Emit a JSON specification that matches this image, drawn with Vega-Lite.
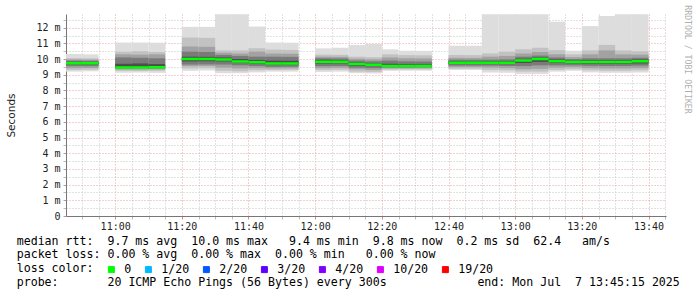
{
  "$schema": "https://vega.github.io/schema/vega-lite/v6.json",
  "width": 600,
  "height": 202,
  "autosize": "none",
  "padding": {"left": 66, "top": 14, "right": 31, "bottom": 81},
  "background": "#ffffff",
  "config": {"view": {"stroke": null}},
  "title": {
    "text": [
      "median rtt:\u00a0\u00a09.7 ms avg\u00a0\u00a010.0 ms max\u00a0\u00a0\u00a09.4 ms min\u00a0\u00a09.8 ms now\u00a0\u00a00.2 ms sd\u00a0\u00a062.4\u00a0\u00a0\u00a0am/s",
      "packet loss: 0.00 % avg\u00a0\u00a00.00 % max\u00a0\u00a00.00 % min\u00a0\u00a0\u00a00.00 % now",
      "loss color:",
      "probe:\u00a0\u00a0\u00a0\u00a0\u00a0\u00a0\u00a020 ICMP Echo Pings (56 Bytes) every 300s\u00a0\u00a0\u00a0\u00a0\u00a0\u00a0\u00a0\u00a0\u00a0\u00a0\u00a0\u00a0\u00a0end: Mon Jul\u00a0\u00a07 13:45:15 2025"
    ],
    "orient": "bottom", "anchor": "start", "frame": "group", "dx": -49.3, "offset": -40,
    "baseline": "top", "lineHeight": 13.9,
    "font": "DejaVu Sans Mono", "fontSize": 11.6, "fontWeight": "normal", "color": "#000000"
  },
  "data": {"values": [
    {"t": "2025-07-07T10:45:00", "t2": "2025-07-07T10:50:00", "mn": 9.2, "p10": 9.3, "p20": 9.42, "p30": 9.55, "p40": 9.66, "med": 9.74, "p60": 9.82, "p70": 9.9, "p80": 9.97, "p90": 10.06, "mx": 10.32, "loss": "0"},
    {"t": "2025-07-07T10:50:00", "t2": "2025-07-07T10:55:00", "mn": 9.22, "p10": 9.32, "p20": 9.43, "p30": 9.55, "p40": 9.65, "med": 9.73, "p60": 9.81, "p70": 9.89, "p80": 9.96, "p90": 10.05, "mx": 10.3, "loss": "0"},
    {"t": "2025-07-07T11:00:00", "t2": "2025-07-07T11:05:00", "mn": 9.13, "p10": 9.25, "p20": 9.33, "p30": 9.39, "p40": 9.43, "med": 9.46, "p60": 9.7, "p70": 10.1, "p80": 10.3, "p90": 10.47, "mx": 11.05, "loss": "0"},
    {"t": "2025-07-07T11:05:00", "t2": "2025-07-07T11:10:00", "mn": 9.14, "p10": 9.24, "p20": 9.33, "p30": 9.4, "p40": 9.43, "med": 9.46, "p60": 9.72, "p70": 10.08, "p80": 10.28, "p90": 10.5, "mx": 11.05, "loss": "0"},
    {"t": "2025-07-07T11:10:00", "t2": "2025-07-07T11:15:00", "mn": 9.12, "p10": 9.25, "p20": 9.34, "p30": 9.4, "p40": 9.44, "med": 9.47, "p60": 9.68, "p70": 10.05, "p80": 10.3, "p90": 10.45, "mx": 11.04, "loss": "0"},
    {"t": "2025-07-07T11:20:00", "t2": "2025-07-07T11:25:00", "mn": 9.25, "p10": 9.4, "p20": 9.55, "p30": 9.65, "p40": 9.85, "med": 10.0, "p60": 10.15, "p70": 10.47, "p80": 10.8, "p90": 11.37, "mx": 12.05, "loss": "0"},
    {"t": "2025-07-07T11:25:00", "t2": "2025-07-07T11:30:00", "mn": 9.27, "p10": 9.42, "p20": 9.56, "p30": 9.66, "p40": 9.86, "med": 10.0, "p60": 10.14, "p70": 10.45, "p80": 10.78, "p90": 11.35, "mx": 12.05, "loss": "0"},
    {"t": "2025-07-07T11:30:00", "t2": "2025-07-07T11:35:00", "mn": 9.1, "p10": 9.25, "p20": 9.45, "p30": 9.65, "p40": 9.85, "med": 9.97, "p60": 10.1, "p70": 10.26, "p80": 10.4, "p90": 10.55, "mx": 12.85, "loss": "0"},
    {"t": "2025-07-07T11:35:00", "t2": "2025-07-07T11:40:00", "mn": 9.1, "p10": 9.22, "p20": 9.4, "p30": 9.6, "p40": 9.75, "med": 9.85, "p60": 10.0, "p70": 10.2, "p80": 10.35, "p90": 10.55, "mx": 12.85, "loss": "0"},
    {"t": "2025-07-07T11:40:00", "t2": "2025-07-07T11:45:00", "mn": 9.15, "p10": 9.28, "p20": 9.42, "p30": 9.56, "p40": 9.7, "med": 9.8, "p60": 9.93, "p70": 10.15, "p80": 10.47, "p90": 10.69, "mx": 12.07, "loss": "0"},
    {"t": "2025-07-07T11:45:00", "t2": "2025-07-07T11:50:00", "mn": 9.2, "p10": 9.3, "p20": 9.4, "p30": 9.5, "p40": 9.62, "med": 9.72, "p60": 9.9, "p70": 10.15, "p80": 10.35, "p90": 10.6, "mx": 11.05, "loss": "0"},
    {"t": "2025-07-07T11:50:00", "t2": "2025-07-07T11:55:00", "mn": 9.2, "p10": 9.31, "p20": 9.41, "p30": 9.51, "p40": 9.62, "med": 9.72, "p60": 9.89, "p70": 10.14, "p80": 10.34, "p90": 10.58, "mx": 11.04, "loss": "0"},
    {"t": "2025-07-07T12:00:00", "t2": "2025-07-07T12:05:00", "mn": 9.18, "p10": 9.3, "p20": 9.42, "p30": 9.55, "p40": 9.72, "med": 9.83, "p60": 9.95, "p70": 10.05, "p80": 10.15, "p90": 10.28, "mx": 10.68, "loss": "0"},
    {"t": "2025-07-07T12:05:00", "t2": "2025-07-07T12:10:00", "mn": 9.2, "p10": 9.32, "p20": 9.44, "p30": 9.56, "p40": 9.73, "med": 9.83, "p60": 9.94, "p70": 10.04, "p80": 10.14, "p90": 10.27, "mx": 10.72, "loss": "0"},
    {"t": "2025-07-07T12:10:00", "t2": "2025-07-07T12:15:00", "mn": 9.1, "p10": 9.2, "p20": 9.35, "p30": 9.45, "p40": 9.58, "med": 9.68, "p60": 9.78, "p70": 9.9, "p80": 10.02, "p90": 10.15, "mx": 10.89, "loss": "0"},
    {"t": "2025-07-07T12:15:00", "t2": "2025-07-07T12:20:00", "mn": 9.08, "p10": 9.18, "p20": 9.3, "p30": 9.42, "p40": 9.55, "med": 9.63, "p60": 9.72, "p70": 9.85, "p80": 9.98, "p90": 10.12, "mx": 10.96, "loss": "0"},
    {"t": "2025-07-07T12:20:00", "t2": "2025-07-07T12:25:00", "mn": 9.25, "p10": 9.33, "p20": 9.4, "p30": 9.46, "p40": 9.51, "med": 9.55, "p60": 9.7, "p70": 9.9, "p80": 10.1, "p90": 10.3, "mx": 10.62, "loss": "0"},
    {"t": "2025-07-07T12:25:00", "t2": "2025-07-07T12:30:00", "mn": 9.26, "p10": 9.34, "p20": 9.41, "p30": 9.46, "p40": 9.51, "med": 9.55, "p60": 9.68, "p70": 9.85, "p80": 10.05, "p90": 10.25, "mx": 10.53, "loss": "0"},
    {"t": "2025-07-07T12:30:00", "t2": "2025-07-07T12:35:00", "mn": 9.26, "p10": 9.34, "p20": 9.41, "p30": 9.47, "p40": 9.51, "med": 9.55, "p60": 9.67, "p70": 9.84, "p80": 10.04, "p90": 10.24, "mx": 10.52, "loss": "0"},
    {"t": "2025-07-07T12:40:00", "t2": "2025-07-07T12:45:00", "mn": 9.3, "p10": 9.38, "p20": 9.48, "p30": 9.58, "p40": 9.68, "med": 9.76, "p60": 9.86, "p70": 9.96, "p80": 10.08, "p90": 10.26, "mx": 10.85, "loss": "0"},
    {"t": "2025-07-07T12:45:00", "t2": "2025-07-07T12:50:00", "mn": 9.3, "p10": 9.38, "p20": 9.48, "p30": 9.58, "p40": 9.68, "med": 9.76, "p60": 9.85, "p70": 9.95, "p80": 10.07, "p90": 10.25, "mx": 10.85, "loss": "0"},
    {"t": "2025-07-07T12:50:00", "t2": "2025-07-07T12:55:00", "mn": 9.15, "p10": 9.3, "p20": 9.45, "p30": 9.58, "p40": 9.68, "med": 9.76, "p60": 9.86, "p70": 9.96, "p80": 10.15, "p90": 10.36, "mx": 12.85, "loss": "0"},
    {"t": "2025-07-07T12:55:00", "t2": "2025-07-07T13:00:00", "mn": 9.12, "p10": 9.28, "p20": 9.42, "p30": 9.56, "p40": 9.68, "med": 9.76, "p60": 9.87, "p70": 9.98, "p80": 10.2, "p90": 10.47, "mx": 12.85, "loss": "0"},
    {"t": "2025-07-07T13:00:00", "t2": "2025-07-07T13:05:00", "mn": 9.05, "p10": 9.2, "p20": 9.35, "p30": 9.55, "p40": 9.75, "med": 9.91, "p60": 10.02, "p70": 10.15, "p80": 10.35, "p90": 10.62, "mx": 12.85, "loss": "0"},
    {"t": "2025-07-07T13:05:00", "t2": "2025-07-07T13:10:00", "mn": 9.05, "p10": 9.2, "p20": 9.38, "p30": 9.6, "p40": 9.82, "med": 10.0, "p60": 10.1, "p70": 10.22, "p80": 10.45, "p90": 10.72, "mx": 12.85, "loss": "0"},
    {"t": "2025-07-07T13:10:00", "t2": "2025-07-07T13:15:00", "mn": 9.2, "p10": 9.3, "p20": 9.45, "p30": 9.6, "p40": 9.75, "med": 9.86, "p60": 9.97, "p70": 10.1, "p80": 10.3, "p90": 10.57, "mx": 12.38, "loss": "0"},
    {"t": "2025-07-07T13:15:00", "t2": "2025-07-07T13:20:00", "mn": 9.25, "p10": 9.35, "p20": 9.48, "p30": 9.6, "p40": 9.72, "med": 9.81, "p60": 9.9, "p70": 10.0, "p80": 10.12, "p90": 10.3, "mx": 10.53, "loss": "0"},
    {"t": "2025-07-07T13:20:00", "t2": "2025-07-07T13:25:00", "mn": 9.15, "p10": 9.28, "p20": 9.42, "p30": 9.57, "p40": 9.7, "med": 9.81, "p60": 9.92, "p70": 10.05, "p80": 10.3, "p90": 10.55, "mx": 12.1, "loss": "0"},
    {"t": "2025-07-07T13:25:00", "t2": "2025-07-07T13:30:00", "mn": 9.12, "p10": 9.25, "p20": 9.4, "p30": 9.56, "p40": 9.7, "med": 9.81, "p60": 9.92, "p70": 10.05, "p80": 10.55, "p90": 10.9, "mx": 12.74, "loss": "0"},
    {"t": "2025-07-07T13:30:00", "t2": "2025-07-07T13:35:00", "mn": 9.12, "p10": 9.25, "p20": 9.4, "p30": 9.56, "p40": 9.7, "med": 9.81, "p60": 9.92, "p70": 10.05, "p80": 10.3, "p90": 10.55, "mx": 12.85, "loss": "0"},
    {"t": "2025-07-07T13:35:00", "t2": "2025-07-07T13:40:00", "mn": 9.15, "p10": 9.28, "p20": 9.42, "p30": 9.58, "p40": 9.72, "med": 9.86, "p60": 9.97, "p70": 10.08, "p80": 10.28, "p90": 10.5, "mx": 12.85, "loss": "0"}
  ]},
  "encoding": {
    "x": {
      "field": "t", "type": "temporal",
      "scale": {"domain": [
        {"year": 2025, "month": 7, "date": 7, "hours": 10, "minutes": 45, "seconds": 15},
        {"year": 2025, "month": 7, "date": 7, "hours": 13, "minutes": 45, "seconds": 15}
      ]},
      "axis": {
        "tickCount": 36,
        "format": "%H:%M",
        "labelExpr": "minutes(datum.value) % 20 === 0 ? datum.label : ''",
        "labelOverlap": false, "labelFlush": false,
        "labelFont": "DejaVu Sans Mono", "labelFontSize": 10, "labelColor": "#222222", "labelPadding": 2,
        "tickSize": 3,
        "tickColor": {"condition": {"test": "minutes(datum.value) % 20 === 0", "value": "#d88a8a"}, "value": "#bbbbbb"},
        "domainColor": "#777777",
        "grid": true,
        "gridColor": {"condition": {"test": "minutes(datum.value) % 20 === 0", "value": "#e3a3a3"}, "value": "#c4c4c4"},
        "gridDash": [1, 2], "gridWidth": 1, "gridOpacity": 1,
        "title": "RRDTOOL / TOBI OETIKER",
        "titleX": 620.5, "titleY": -157, "titleAngle": 90, "titleAlign": "center", "titleBaseline": "middle",
        "titleFont": "DejaVu Sans Mono", "titleFontSize": 8.2, "titleFontWeight": "normal", "titleColor": "#b0b0b0"
      }
    },
    "x2": {"field": "t2"}
  },
  "layer": [
    {
      "mark": {"type": "rect", "color": "#dddddd", "clip": true},
      "encoding": {
        "y": {
          "field": "mn", "type": "quantitative",
          "scale": {"domain": [0, 12.87], "nice": false, "zero": true},
          "axis": {
            "values": [0, 0.5, 1, 1.5, 2, 2.5, 3, 3.5, 4, 4.5, 5, 5.5, 6, 6.5, 7, 7.5, 8, 8.5, 9, 9.5, 10, 10.5, 11, 11.5, 12, 12.5],
            "labelExpr": "datum.value === 0 ? '0' : (datum.value % 1 === 0 ? datum.value + ' m' : '')",
            "labelOverlap": false, "labelFlush": false,
            "labelFont": "DejaVu Sans Mono", "labelFontSize": 10, "labelColor": "#222222", "labelPadding": 3,
            "tickSize": 3,
            "tickColor": {"condition": {"test": "datum.value % 1 === 0", "value": "#d88a8a"}, "value": "#bbbbbb"},
            "domainColor": "#777777",
            "grid": true,
            "gridColor": {"condition": {"test": "datum.value % 1 === 0", "value": "#e3a3a3"}, "value": "#c4c4c4"},
            "gridDash": [1, 2], "gridWidth": 1, "gridOpacity": 1,
            "title": "Seconds",
            "titleX": -55, "titleY": 101, "titleAngle": -90, "titleAlign": "center", "titleBaseline": "middle",
            "titleFont": "DejaVu Sans", "titleFontSize": 10.5, "titleFontWeight": "normal", "titleColor": "#222222"
          }
        },
        "y2": {"field": "mx"}
      }
    },
    {
      "mark": {"type": "rect", "color": "#c2c2c2", "clip": true},
      "encoding": {
        "y": {"field": "p10", "type": "quantitative",
          "axis": {
            "values": [0, 0.5, 1, 1.5, 2, 2.5, 3, 3.5, 4, 4.5, 5, 5.5, 6, 6.5, 7, 7.5, 8, 8.5, 9, 9.5, 10, 10.5, 11, 11.5, 12, 12.5],
            "labelExpr": "datum.value === 0 ? '0' : (datum.value % 1 === 0 ? datum.value + ' m' : '')",
            "labelOverlap": false, "labelFlush": false,
            "labelFont": "DejaVu Sans Mono", "labelFontSize": 10, "labelColor": "#222222", "labelPadding": 3,
            "tickSize": 3,
            "tickColor": {"condition": {"test": "datum.value % 1 === 0", "value": "#d88a8a"}, "value": "#bbbbbb"},
            "domainColor": "#777777",
            "grid": true,
            "gridColor": {"condition": {"test": "datum.value % 1 === 0", "value": "#e3a3a3"}, "value": "#c4c4c4"},
            "gridDash": [1, 2], "gridWidth": 1, "gridOpacity": 1,
            "title": "Seconds",
            "titleX": -55, "titleY": 101, "titleAngle": -90, "titleAlign": "center", "titleBaseline": "middle",
            "titleFont": "DejaVu Sans", "titleFontSize": 10.5, "titleFontWeight": "normal", "titleColor": "#222222"
          }},
        "y2": {"field": "p90"}
      }
    },
    {
      "mark": {"type": "rect", "color": "#a2a2a2", "clip": true},
      "encoding": {
        "y": {"field": "p20", "type": "quantitative",
          "axis": {
            "values": [0, 0.5, 1, 1.5, 2, 2.5, 3, 3.5, 4, 4.5, 5, 5.5, 6, 6.5, 7, 7.5, 8, 8.5, 9, 9.5, 10, 10.5, 11, 11.5, 12, 12.5],
            "labelExpr": "datum.value === 0 ? '0' : (datum.value % 1 === 0 ? datum.value + ' m' : '')",
            "labelOverlap": false, "labelFlush": false,
            "labelFont": "DejaVu Sans Mono", "labelFontSize": 10, "labelColor": "#222222", "labelPadding": 3,
            "tickSize": 3,
            "tickColor": {"condition": {"test": "datum.value % 1 === 0", "value": "#d88a8a"}, "value": "#bbbbbb"},
            "domainColor": "#777777",
            "grid": true,
            "gridColor": {"condition": {"test": "datum.value % 1 === 0", "value": "#e3a3a3"}, "value": "#c4c4c4"},
            "gridDash": [1, 2], "gridWidth": 1, "gridOpacity": 1,
            "title": "Seconds",
            "titleX": -55, "titleY": 101, "titleAngle": -90, "titleAlign": "center", "titleBaseline": "middle",
            "titleFont": "DejaVu Sans", "titleFontSize": 10.5, "titleFontWeight": "normal", "titleColor": "#222222"
          }},
        "y2": {"field": "p80"}
      }
    },
    {
      "mark": {"type": "rect", "color": "#7a7a7a", "clip": true},
      "encoding": {
        "y": {"field": "p30", "type": "quantitative",
          "axis": {
            "values": [0, 0.5, 1, 1.5, 2, 2.5, 3, 3.5, 4, 4.5, 5, 5.5, 6, 6.5, 7, 7.5, 8, 8.5, 9, 9.5, 10, 10.5, 11, 11.5, 12, 12.5],
            "labelExpr": "datum.value === 0 ? '0' : (datum.value % 1 === 0 ? datum.value + ' m' : '')",
            "labelOverlap": false, "labelFlush": false,
            "labelFont": "DejaVu Sans Mono", "labelFontSize": 10, "labelColor": "#222222", "labelPadding": 3,
            "tickSize": 3,
            "tickColor": {"condition": {"test": "datum.value % 1 === 0", "value": "#d88a8a"}, "value": "#bbbbbb"},
            "domainColor": "#777777",
            "grid": true,
            "gridColor": {"condition": {"test": "datum.value % 1 === 0", "value": "#e3a3a3"}, "value": "#c4c4c4"},
            "gridDash": [1, 2], "gridWidth": 1, "gridOpacity": 1,
            "title": "Seconds",
            "titleX": -55, "titleY": 101, "titleAngle": -90, "titleAlign": "center", "titleBaseline": "middle",
            "titleFont": "DejaVu Sans", "titleFontSize": 10.5, "titleFontWeight": "normal", "titleColor": "#222222"
          }},
        "y2": {"field": "p70"}
      }
    },
    {
      "mark": {"type": "rect", "color": "#4e4e4e", "clip": true},
      "encoding": {
        "y": {"field": "p40", "type": "quantitative",
          "axis": {
            "values": [0, 0.5, 1, 1.5, 2, 2.5, 3, 3.5, 4, 4.5, 5, 5.5, 6, 6.5, 7, 7.5, 8, 8.5, 9, 9.5, 10, 10.5, 11, 11.5, 12, 12.5],
            "labelExpr": "datum.value === 0 ? '0' : (datum.value % 1 === 0 ? datum.value + ' m' : '')",
            "labelOverlap": false, "labelFlush": false,
            "labelFont": "DejaVu Sans Mono", "labelFontSize": 10, "labelColor": "#222222", "labelPadding": 3,
            "tickSize": 3,
            "tickColor": {"condition": {"test": "datum.value % 1 === 0", "value": "#d88a8a"}, "value": "#bbbbbb"},
            "domainColor": "#777777",
            "grid": true,
            "gridColor": {"condition": {"test": "datum.value % 1 === 0", "value": "#e3a3a3"}, "value": "#c4c4c4"},
            "gridDash": [1, 2], "gridWidth": 1, "gridOpacity": 1,
            "title": "Seconds",
            "titleX": -55, "titleY": 101, "titleAngle": -90, "titleAlign": "center", "titleBaseline": "middle",
            "titleFont": "DejaVu Sans", "titleFontSize": 10.5, "titleFontWeight": "normal", "titleColor": "#222222"
          }},
        "y2": {"field": "p60"}
      }
    },
    {
      "mark": {"type": "rect", "strokeWidth": 2.5, "clip": true},
      "encoding": {
        "y": {"field": "med", "type": "quantitative",
          "axis": {
            "values": [0, 0.5, 1, 1.5, 2, 2.5, 3, 3.5, 4, 4.5, 5, 5.5, 6, 6.5, 7, 7.5, 8, 8.5, 9, 9.5, 10, 10.5, 11, 11.5, 12, 12.5],
            "labelExpr": "datum.value === 0 ? '0' : (datum.value % 1 === 0 ? datum.value + ' m' : '')",
            "labelOverlap": false, "labelFlush": false,
            "labelFont": "DejaVu Sans Mono", "labelFontSize": 10, "labelColor": "#222222", "labelPadding": 3,
            "tickSize": 3,
            "tickColor": {"condition": {"test": "datum.value % 1 === 0", "value": "#d88a8a"}, "value": "#bbbbbb"},
            "domainColor": "#777777",
            "grid": true,
            "gridColor": {"condition": {"test": "datum.value % 1 === 0", "value": "#e3a3a3"}, "value": "#c4c4c4"},
            "gridDash": [1, 2], "gridWidth": 1, "gridOpacity": 1,
            "title": "Seconds",
            "titleX": -55, "titleY": 101, "titleAngle": -90, "titleAlign": "center", "titleBaseline": "middle",
            "titleFont": "DejaVu Sans", "titleFontSize": 10.5, "titleFontWeight": "normal", "titleColor": "#222222"
          }},
        "y2": {"field": "med"},
        "stroke": {
          "field": "loss", "type": "nominal",
          "scale": {
            "domain": ["0", "1/20", "2/20", "3/20", "4/20", "10/20", "19/20"],
            "range": ["#00ff00", "#00b8ff", "#0059ff", "#5e00ff", "#7e00ff", "#dd00ff", "#ff0000"]
          },
          "legend": null
        },
        "fill": {
          "field": "loss", "type": "nominal",
          "scale": {
            "domain": ["0", "1/20", "2/20", "3/20", "4/20", "10/20", "19/20"],
            "range": ["#00ff00", "#00b8ff", "#0059ff", "#5e00ff", "#7e00ff", "#dd00ff", "#ff0000"]
          },
          "legend": {
            "orient": "none", "legendX": 39.6, "legendY": 249.5, "direction": "horizontal",
            "title": null,
            "labelFont": "DejaVu Sans Mono", "labelFontSize": 11.6, "labelColor": "#000000", "labelOffset": 7,
            "columnPadding": 11, "padding": 0,
            "symbolType": "square", "symbolSize": 36, "symbolStrokeColor": "#000000", "symbolStrokeWidth": 1, "symbolOpacity": 1
          }
        }
      }
    }
  ]
}
